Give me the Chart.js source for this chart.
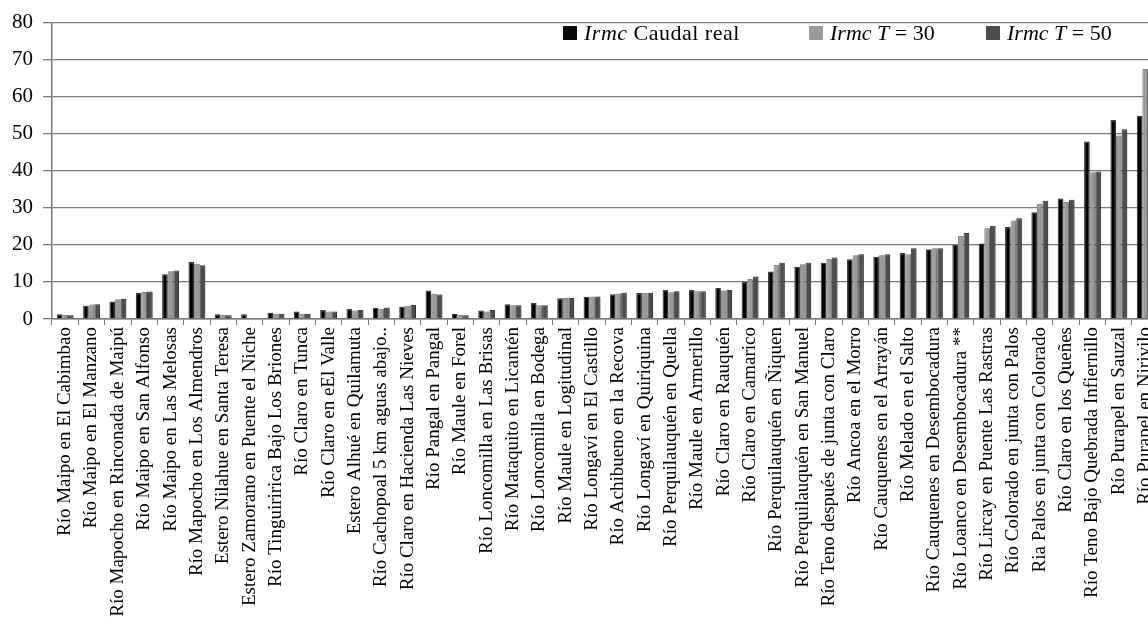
<!DOCTYPE html>
<html>
<head>
<meta charset="utf-8">
<script src="https://cdn.jsdelivr.net/npm/chart.js"></script>
<style>
    html, body { margin: 0; padding: 0; background: #fff; overflow: hidden; }
    #wrap { position: relative; width: 1170px; height: 624px; }
    #legend .item {
        position: absolute;
        top: 22px;
        display: flex;
        align-items: center;
        font-family: "Liberation Serif", serif;
        font-size: 22px;
        line-height: 22px;
        color: #000;
        white-space: nowrap;
    }
    #legend .sw { display: inline-block; width: 14px; height: 14px; margin-right: 7px; }
</style>
</head>
<body>
<div id="wrap">
    <canvas id="myBarChart" width="1170" height="624"></canvas>
    <div id="legend">
        <div class="item" style="left:563px; letter-spacing:0.5px"><span class="sw" style="background:#0a0a0a"></span><i>Irmc</i>&nbsp;Caudal real</div>
        <div class="item" style="left:809px"><span class="sw" style="background:#9a9a9a"></span><i>Irmc T</i>&nbsp;= 30</div>
        <div class="item" style="left:986px"><span class="sw" style="background:#4d4d4d"></span><i>Irmc T</i>&nbsp;= 50</div>
    </div>
</div>
<script>
// estaciones
const estaciones = [
    'Río Maipo en El Cabimbao',
    'Río Maipo en El Manzano',
    'Río Mapocho en Rinconada de Maipú',
    'Río Maipo en San Alfonso',
    'Río Maipo en Las Melosas',
    'Río Mapocho en Los Almendros',
    'Estero Nilahue en Santa Teresa',
    'Estero Zamorano en Puente el Niche',
    'Río Tinguiririca Bajo Los Briones',
    'Río Claro en Tunca',
    'Río Claro en eEl Valle',
    'Estero Alhué en Quilamuta',
    'Río Cachopoal 5 km aguas abajo..',
    'Río Claro en Hacienda Las Nieves',
    'Río Pangal en Pangal',
    'Río Maule en Forel',
    'Río Loncomilla en Las Brisas',
    'Río Mataquito en Licantén',
    'Río Loncomilla en Bodega',
    'Río Maule en Logitudinal',
    'Río Longaví en El Castillo',
    'Río Achibueno en la Recova',
    'Río Longaví en Quiriquina',
    'Río Perquilauquén en Quella',
    'Río Maule en Armerillo',
    'Río Claro en Rauquén',
    'Río Claro en Camarico',
    'Río Perquilauquén en Ñiquen',
    'Río Perquilauquén en San Manuel',
    'Río Teno después de junta con Claro',
    'Río Ancoa en el Morro',
    'Río Cauquenes en el Arrayán',
    'Río Melado en el Salto',
    'Río Cauquenes en Desembocadura',
    'Río Loanco en Desembocadura **',
    'Río Lircay en Puente Las Rastras',
    'Río Colorado en junta con Palos',
    'Ria Palos en junta con Colorado',
    'Río Claro en los Queñes',
    'Río Teno Bajo Quebrada Infiernillo',
    'Río Purapel en Sauzal',
    'Río Purapel en Nirivilo'
];

const caudalReal = [1.3, 3.6, 4.7, 7.0, 12.1, 15.4, 1.3, 1.3, 1.7, 2.0, 2.4, 2.7, 3.0, 3.3,
    7.7, 1.4, 2.3, 4.0, 4.3, 5.6, 6.0, 6.7, 7.0, 7.8, 7.8, 8.4, 10.0, 12.8, 14.1, 15.2,
    16.1, 16.8, 17.8, 18.8, 20.0, 20.4, 24.8, 28.8, 32.5, 47.9, 53.7, 54.8];
const irmcT30 = [1.1, 3.9, 5.3, 7.3, 12.9, 14.9, 1.1, 0, 1.4, 1.4, 2.0, 2.3, 2.8, 3.6,
    6.8, 1.1, 2.0, 3.7, 3.7, 5.7, 6.1, 6.9, 7.1, 7.2, 7.5, 7.7, 10.8, 14.6, 14.8, 16.2,
    17.2, 17.2, 17.5, 19.1, 22.5, 24.5, 26.6, 31.1, 31.6, 39.6, 49.5, 67.5];
const irmcT50 = [1.0, 4.0, 5.4, 7.4, 13.1, 14.5, 1.0, 0, 1.4, 1.4, 2.0, 2.4, 3.1, 3.8,
    6.6, 1.0, 2.4, 3.7, 3.7, 5.7, 6.1, 7.1, 7.1, 7.5, 7.5, 7.8, 11.5, 15.2, 15.2, 16.6,
    17.5, 17.5, 19.1, 19.1, 23.2, 25.2, 27.2, 31.9, 32.2, 39.8, 51.2, 68.0];

const yTicks = [0, 10, 20, 30, 40, 50, 60, 70, 80];

// soft shadow behind the bars, like the original
const barShadow = {
    id: 'barShadow',
    beforeDatasetsDraw(chart) {
        const c = chart.ctx;
        c.save();
        c.shadowColor = 'rgba(0,0,0,0.35)';
        c.shadowBlur = 3;
        c.shadowOffsetX = 2;
        c.shadowOffsetY = 0;
    },
    afterDatasetsDraw(chart) {
        chart.ctx.restore();
    }
};

const ctx = document.getElementById('myBarChart');

new Chart(ctx, {
    type: 'bar',
    data: {
        labels: estaciones,
        datasets: [
            { label: 'Irmc Caudal real', data: caudalReal, backgroundColor: '#000', borderColor: '#444', borderWidth: 1.2 },
            { label: 'Irmc T = 30', data: irmcT30, backgroundColor: '#9a9a9a', borderColor: '#8a8a8a', borderWidth: 1 },
            { label: 'Irmc T = 50', data: irmcT50, backgroundColor: '#4d4d4d', borderColor: '#3f3f3f', borderWidth: 1 }
        ]
    },
    options: {
        responsive: false,
        animation: false,
        devicePixelRatio: 1,
        categoryPercentage: 0.64,
        barPercentage: 1.0,
        layout: { padding: { left: 10, top: 22, right: 3, bottom: 0 } },
        plugins: {
            legend: { display: false },
            tooltip: { enabled: false }
        },
        scales: {
            x: {
                grid: {
                    offset: true,
                    drawOnChartArea: false,
                    drawTicks: true,
                    tickLength: 6,
                    color: '#777'
                },
                border: { color: '#777', width: 1.5 },
                ticks: {
                    autoSkip: false,
                    minRotation: 90,
                    maxRotation: 90,
                    padding: 2,
                    color: '#000',
                    font: { family: 'Liberation Serif', size: 19 }
                },
                afterFit: function (scale) { scale.height = 305; }
            },
            y: {
                min: 0,
                max: 80,
                afterBuildTicks: function (scale) {
                    scale.ticks = yTicks.map(v => ({ value: v }));
                },
                grid: { color: '#7a7a7a', lineWidth: 1.3, tickLength: 9 },
                border: { color: '#777', width: 1.5 },
                ticks: {
                    padding: 10,
                    color: '#000',
                    font: { family: 'Liberation Serif', size: 21 }
                },
                afterFit: function (scale) { scale.width = 42; }
            }
        }
    },
    plugins: [barShadow]
});
</script>
</body>
</html>
